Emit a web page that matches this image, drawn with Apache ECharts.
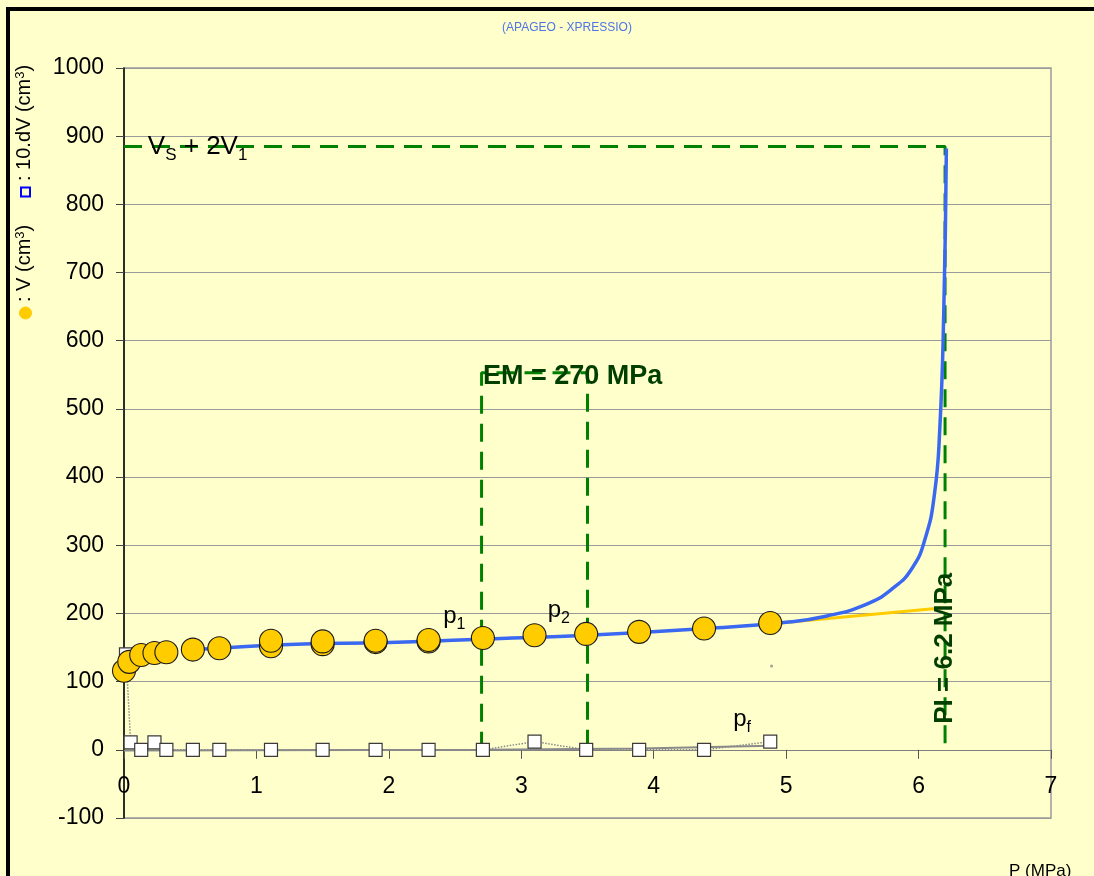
<!DOCTYPE html>
<html>
<head>
<meta charset="utf-8">
<title>Pressiomètre - courbe V(P)</title>
<script src="https://cdn.jsdelivr.net/npm/echarts@6/dist/echarts.min.js"></script>
<style>
  html, body { margin: 0; padding: 0; background: #ffffcc; }
  #chart { width: 1094px; height: 876px; }
</style>
</head>
<body>
<div id="chart"></div>
<script>
// Pressure steps (MPa) and injected volume V (cm3); repeated steps hold two readings
const pressure = [0, 0.04, 0.13, 0.23, 0.32, 0.52, 0.72, 1.11, 1.11, 1.5, 1.5, 1.9, 1.9, 2.3, 2.3, 2.71, 3.1, 3.49, 3.89, 4.38, 4.88];
const volume   = [116, 129, 139, 142, 143, 147, 149, 152, 160, 155, 159, 158, 160, 159, 161, 164, 168, 170, 173, 178, 186];

// Creep volume 10.dV (cm3) at each step
const dvPressure = [0.015, 0.05, 0.13, 0.23, 0.32, 0.52, 0.72, 1.11, 1.5, 1.9, 2.3, 2.71, 3.1, 3.49, 3.89, 4.38, 4.88];
const dvVolume   = [140, 11, 0, 11, 0, 0, 0, 0, 0, 0, 0, 0, 12, 0, 0, 0, 12];

// Fitted pressuremeter curve (extrapolated towards the limit volume)
const fitPressure = [0.45, 0.8, 1.3, 2.0, 2.8, 3.5, 4.4, 5.0, 5.3, 5.6, 5.8, 5.95, 6.05, 6.12, 6.16, 6.19, 6.21];
const fitVolume   = [146, 150, 155, 157.5, 163, 168, 178, 187, 196, 213, 236, 266, 310, 375, 470, 640, 882];

// Linear pseudo-elastic extension beyond the last reading
const extPressure = [4.95, 6.17];
const extVolume   = [186, 208];

// Trend of creep readings
const creepTrendP = [0, 2.7, 3.9, 4.88];
const creepTrendV = [-1, 0, 2, 6];

// Interpretation values
const PL_MPA = 6.2;        // limit pressure
const VLIMIT = 885;        // Vs + 2V1
const P1 = 2.7, P2 = 3.5;  // pseudo-elastic range
const EM_TOP = 553;
const EM_MPA = 270;

// Isolated reading
const strayP = [4.89], strayV = [123];

// Axis ticks
const xTicks = { min: 0, max: 7, step: 1 };
const yTicks = { min: -100, max: 1000, step: 100 };

const zip = (a, b) => a.map((v, i) => [v, b[i]]);

const FONT = 'Liberation Sans, Arial, sans-serif';
const GREEN = '#008000';
const DARK_GREEN = '#003f00';
const dashed = { color: GREEN, width: 3, type: [18, 10] };

const chart = echarts.init(document.getElementById('chart'), null, { renderer: 'canvas' });

const subRich = (base, color, bold) => ({
  b: { fontSize: base, lineHeight: base + 8, color, fontWeight: bold ? 'bold' : 'normal', fontFamily: FONT, opacity: 1 },
  s: { fontSize: Math.round(base * 0.66), lineHeight: Math.round(base * 0.66) + 3, verticalAlign: 'bottom', color, fontFamily: FONT, opacity: 1 }
});

const note = (pt, formatter, rich, color, extra) => ({
  value: pt,
  label: Object.assign({
    show: true, position: 'right', distance: 0, formatter, rich,
    color, opacity: 1, textBorderWidth: 0, textShadowBlur: 0
  }, extra || {})
});

const option = {
  animation: false,
  backgroundColor: '#ffffcc',
  textStyle: { fontFamily: FONT },
  grid: {
    left: 124, right: 43, top: 68, bottom: 58,
    show: true, borderColor: '#9a9a9a', borderWidth: 1.5,
    outerBoundsMode: 'none', containLabel: false
  },
  xAxis: {
    type: 'value', min: xTicks.min, max: xTicks.max, interval: xTicks.step,
    axisLine: { show: true, onZero: true, lineStyle: { color: '#808080', width: 1 } },
    axisTick: { show: true, inside: false, length: 9, lineStyle: { color: '#555' } },
    axisLabel: { color: '#000', fontSize: 23, margin: -43, formatter: v => String(v) },
    splitLine: { show: false }
  },
  yAxis: {
    type: 'value', min: yTicks.min, max: yTicks.max, interval: yTicks.step,
    axisLine: { show: true, onZero: false, lineStyle: { color: '#000', width: 1.5 } },
    axisTick: { show: true, inside: false, length: 8, lineStyle: { color: '#444' } },
    axisLabel: { color: '#000', fontSize: 23, margin: 20, formatter: v => String(v) },
    splitLine: { show: true, lineStyle: { color: '#9a9a9a', width: 1.2 } }
  },
  graphic: [
    // frame
    { type: 'rect', left: 6, top: 7, shape: { width: 1088, height: 4 }, style: { fill: '#000' }, z: 100 },
    { type: 'rect', left: 6, top: 7, shape: { width: 4, height: 869 }, style: { fill: '#000' }, z: 100 },
    // title
    { type: 'text', x: 567, y: 28, style: { text: '(APAGEO - XPRESSIO)', fill: '#4f74e6', fontSize: 12, align: 'center', verticalAlign: 'middle', fontFamily: FONT } },
    // x axis name
    { type: 'text', x: 1009, y: 863, style: { text: 'P (MPa)', fill: '#000', fontSize: 17, align: 'left', verticalAlign: 'top', fontFamily: FONT } },
    // y axis legend-name
    { type: 'circle', shape: { cx: 25.5, cy: 313, r: 6 }, style: { fill: '#ffcc00', stroke: '#ffcc00' } },
    { type: 'text', x: 24, y: 302, rotation: Math.PI / 2,
      style: { text: ': V (cm{sup|3})', fill: '#000', fontSize: 20, align: 'left', verticalAlign: 'middle',
        fontFamily: FONT,
        rich: { sup: { fontSize: 13, lineHeight: 13, verticalAlign: 'top', fill: '#000', fontFamily: FONT } } } },
    { type: 'rect', shape: { x: 21, y: 187.5, width: 9, height: 9 }, style: { fill: 'none', stroke: '#0000ff', lineWidth: 2 } },
    { type: 'text', x: 24, y: 181, rotation: Math.PI / 2,
      style: { text: ': 10.dV (cm{sup|3})', fill: '#000', fontSize: 20, align: 'left', verticalAlign: 'middle',
        fontFamily: FONT,
        rich: { sup: { fontSize: 13, lineHeight: 13, verticalAlign: 'top', fill: '#000', fontFamily: FONT } } } }
  ],
  series: [
    {
      name: 'limit', type: 'line', z: 2, symbol: 'none', silent: true,
      data: [[xTicks.min, VLIMIT], [PL_MPA, VLIMIT], [PL_MPA, 0]],
      lineStyle: dashed
    },
    {
      name: 'range', type: 'line', z: 2, symbol: 'none', silent: true,
      data: [[P1, 0], [P1, EM_TOP], [P2, EM_TOP], [P2, 0]],
      lineStyle: dashed
    },
    {
      name: 'creepTrend', type: 'line', z: 3, symbol: 'none', silent: true,
      data: zip(creepTrendP, creepTrendV),
      lineStyle: { color: '#8a8a8a', width: 2 }
    },
    {
      name: 'creepLink', type: 'line', z: 3, symbol: 'none', silent: true,
      data: zip(dvPressure, dvVolume),
      lineStyle: { color: '#8a8a8a', width: 1.5, type: 'dotted' }
    },
    {
      name: 'extension', type: 'line', z: 4, symbol: 'none', silent: true,
      data: zip(extPressure, extVolume),
      lineStyle: { color: '#ffcc00', width: 3 }
    },
    {
      name: 'fit', type: 'line', z: 5, symbol: 'none', silent: true,
      smooth: 0.5,
      data: zip(fitPressure, fitVolume),
      lineStyle: { color: '#3a68f0', width: 3.5 }
    },
    {
      name: '10.dV', type: 'scatter', z: 6, symbol: 'rect', symbolSize: 13,
      data: zip(dvPressure, dvVolume),
      itemStyle: { color: '#ffffff', borderColor: '#3a3a3a', borderWidth: 1.2, opacity: 1 }
    },
    {
      name: 'stray', type: 'scatter', z: 6, symbol: 'circle', symbolSize: 3,
      data: zip(strayP, strayV),
      itemStyle: { color: '#8a8a8a' }
    },
    {
      name: 'V', type: 'scatter', z: 7, symbol: 'circle', symbolSize: 23,
      data: zip(pressure, volume),
      itemStyle: { color: '#ffcc00', borderColor: '#1a1a1a', borderWidth: 1.1, opacity: 1 }
    },
    {
      name: 'notes', type: 'scatter', z: 10, symbolSize: 0, silent: true,
      itemStyle: { color: '#ffffcc', opacity: 1 },
      data: [
        note([0.18, VLIMIT], '{b|V}{s|S}{b| + 2V}{s|1}', subRich(26, '#000', false), '#000'),
        note([2.71, 547], '{b|EM = ' + EM_MPA + ' MPa}', subRich(27, DARK_GREEN, true), DARK_GREEN),
        note([PL_MPA, 149], '{b|PI = ' + PL_MPA + ' MPa}', subRich(26, DARK_GREEN, true), DARK_GREEN,
             { position: 'inside', rotate: 90, align: 'center', verticalAlign: 'middle' }),
        note([2.41, 196], '{b|p}{s|1}', subRich(24, '#000', false), '#000'),
        note([3.2, 204], '{b|p}{s|2}', subRich(24, '#000', false), '#000'),
        note([4.6, 45], '{b|p}{s|f}', subRich(24, '#000', false), '#000')
      ]
    }
  ]
};

chart.setOption(option);
</script>
</body>
</html>
